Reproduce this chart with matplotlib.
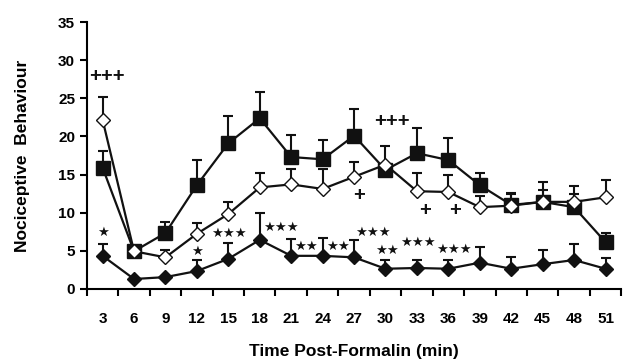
import matplotlib
matplotlib.use("Agg")
import matplotlib.pyplot as plt
import numpy as np

# data
times = [3, 6, 9, 12, 15, 18, 21, 24, 27, 30, 33, 36, 39, 42, 45, 48, 51]

sq_mean = [15.9, 4.9, 7.3, 13.6, 19.1, 22.4, 17.3, 17.0, 20.1, 15.6, 17.8, 16.9, 13.6, 11.0, 11.4, 10.7, 6.1]
sq_err = [2.2, 0.0, 1.4, 3.3, 3.6, 3.5, 2.9, 2.6, 3.5, 0.0, 3.3, 2.9, 1.6, 1.6, 1.5, 1.8, 1.2]

od_mean = [22.2, 4.9, 4.1, 7.2, 9.8, 13.3, 13.7, 13.1, 14.7, 16.3, 12.8, 12.7, 10.7, 10.9, 11.4, 11.4, 12.0]
od_err = [3.0, 0.0, 1.0, 1.4, 1.6, 1.9, 2.0, 2.6, 2.0, 2.5, 2.4, 2.3, 1.5, 1.6, 2.6, 2.1, 2.3]

fd_mean = [4.3, 1.25, 1.5, 2.3, 3.9, 6.4, 4.3, 4.3, 4.1, 2.6, 2.7, 2.6, 3.4, 2.6, 3.2, 3.75, 2.6]
fd_err = [1.6, 0.0, 0.0, 1.45, 2.1, 3.5, 2.2, 2.3, 2.3, 1.15, 1.05, 1.1, 2.1, 1.5, 1.9, 2.15, 1.4]

# significance marks: (text, category position, y)
plus_marks = [("+++", 0.14, 27.9), ("+++", 9.21, 22.0), ("+", 8.16, 12.3), ("+", 10.26, 10.2), ("+", 11.22, 10.2)]
star_marks = [("★", 0.0, 7.4), ("★", 3.0, 4.9), ("★★★", 4.02, 7.3), ("★★★", 5.68, 8.1),
              ("★★", 6.47, 5.5), ("★★", 7.49, 5.5), ("★★★", 8.61, 7.4), ("★★", 9.05, 5.0),
              ("★★★", 10.04, 6.0), ("★★★", 11.19, 5.2)]

plt.rcParams['font.family'] = ['Liberation Sans', 'DejaVu Sans']
plt.rcParams['font.weight'] = 'bold'

fig = plt.figure(figsize=(6.25, 3.61), dpi=100)
ax = fig.add_axes([0.139, 0.2008, 0.855, 0.7369])

x = np.arange(len(times))
col = "#111111"

def draw(mean, err, marker, ms, face, z):
    ax.errorbar(x, mean, yerr=[np.zeros(len(err)), err], fmt="none", ecolor=col,
                elinewidth=1.5, capsize=3.5, capthick=1.5, zorder=z)
    ax.plot(x, mean, color=col, lw=1.6, marker=marker, ms=ms, mfc=face,
            mec=col, mew=1.0, zorder=z + 0.5)

draw(sq_mean, sq_err, "s", 9.4, col, 2)
draw(od_mean, od_err, "D", 6.8, "white", 4)
draw(fd_mean, fd_err, "D", 6.8, col, 6)

for txt, px, py in plus_marks:
    ax.text(px, py, txt, ha="center", va="center", fontsize=14.5, fontweight="bold", color=col)
for txt, px, py in star_marks:
    ax.text(px, py, txt, ha="center", va="center", fontsize=9.5, family="DejaVu Sans", color=col)

ax.set_xlim(-0.5, len(times) - 0.5)
ax.set_ylim(0, 35)
ax.set_yticks(range(0, 36, 5))
ax.set_xticks(x)
ax.set_xticklabels([str(t) for t in times])
ax.set_xticks(np.arange(-0.5, len(times)), minor=True)
ax.tick_params(axis="x", which="major", length=0, pad=17, labelsize=11)
ax.tick_params(axis="x", which="minor", length=5, width=1.5, direction="out")
ax.tick_params(axis="y", length=5, width=1.5, labelsize=11)

for s in ["top", "right"]:
    ax.spines[s].set_visible(False)
for s in ["left", "bottom"]:
    ax.spines[s].set_linewidth(1.5)

ax.set_xlabel("Time Post-Formalin (min)", fontsize=12.5, fontweight="bold", labelpad=13)
ax.set_ylabel("Nociceptive  Behaviour", fontsize=12.5, fontweight="bold", labelpad=20)

fig.savefig("out.png", dpi=100)
